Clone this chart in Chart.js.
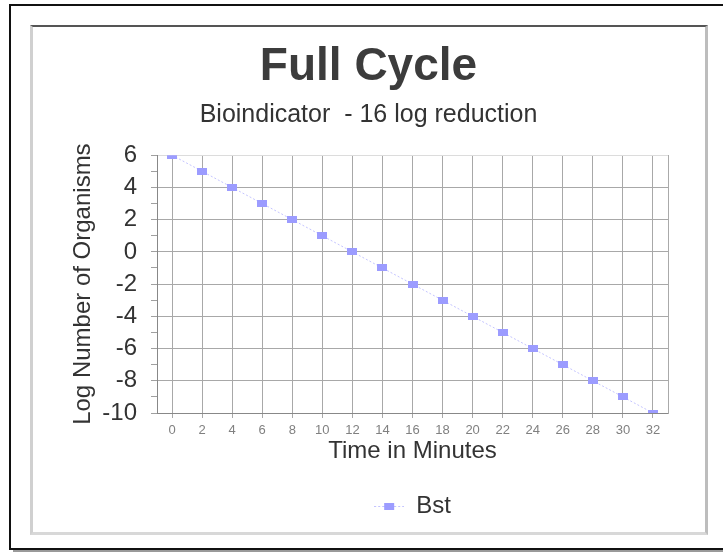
<!DOCTYPE html>
<html><head><meta charset="utf-8">
<script src="https://cdn.jsdelivr.net/npm/chart.js@4"></script>
<style>
html,body{margin:0;padding:0;background:#fff;width:723px;height:552px;overflow:hidden;position:relative}
.ln{position:absolute;background:#111}
#panel{position:absolute;left:30px;top:25px;width:672px;height:505px;background:#fff;border-top:2px solid #555;border-left:3px solid #d0d0d0;border-right:3px solid #bdbdbd;border-bottom:3px solid #d8d8d8}
canvas{position:absolute;left:0;top:0}
</style></head><body>
<div class="ln" style="left:9px;top:4px;width:714px;height:2px"></div>
<div class="ln" style="left:9px;top:4px;width:2px;height:546px"></div>
<div class="ln" style="left:9px;top:548px;width:714px;height:2px"></div>
<div class="ln" style="left:13px;top:550px;width:710px;height:2px;background:#9a9a9a"></div>
<div id="panel"></div>
<canvas id="c" width="723" height="552"></canvas>
<script>
const chartTitle = 'Full Cycle';
const chartSubtitle = 'Bioindicator  - 16 log reduction';
const xAxisTitle = 'Time in Minutes';
const yAxisTitle = 'Log Number of Organisms';
const seriesName = 'Bst';
const timeLabels = ['0','2','4','6','8','10','12','14','16','18','20','22','24','26','28','30','32'];
const bstValues = [6,5,4,3,2,1,0,-1,-2,-3,-4,-5,-6,-7,-8,-9,-10];
const yMin = -10, yMax = 6;

Chart.defaults.font.family = "'Liberation Sans', Arial, sans-serif";

const markColor = '#9c9cff';
const lineColor = '#c4c4ff';

const pointImg = document.createElement('canvas');
pointImg.width = 10; pointImg.height = 7;
{ const g = pointImg.getContext('2d'); g.fillStyle = markColor; g.fillRect(0,0,10,7); }

const legendImg = document.createElement('canvas');
legendImg.width = 30; legendImg.height = 8;
{ const g = legendImg.getContext('2d');
  g.strokeStyle = lineColor; g.lineWidth = 1; g.setLineDash([2,2]);
  g.beginPath(); g.moveTo(0,4.5); g.lineTo(30,4.5); g.stroke();
  g.fillStyle = markColor; g.fillRect(10,1,10,7); }

new Chart(document.getElementById('c'), {
  type: 'line',
  data: {
    labels: timeLabels,
    datasets: [{
      label: seriesName,
      data: bstValues,
      borderColor: lineColor,
      borderWidth: 1,
      borderDash: [2,2],
      pointStyle: pointImg,
      pointRadius: 4,
      pointBackgroundColor: markColor,
      pointBorderColor: markColor,
      tension: 0,
      fill: false,
      clip: 0
    }]
  },
  options: {
    responsive: false,
    animation: false,
    devicePixelRatio: 1,
    layout: { padding: { left: 69, right: 55, top: 25, bottom: 24 } },
    plugins: {
      title: { display: true, text: chartTitle, color: '#3c3c3c',
        font: { size: 46, weight: 'bold' }, padding: { top: 15, bottom: 0 } },
      subtitle: { display: true, text: chartSubtitle, color: '#333',
        font: { size: 25 }, padding: { top: 5, bottom: 25 } },
      legend: { position: 'bottom', fullSize: false,
        labels: { usePointStyle: true, pointStyle: legendImg, pointStyleWidth: 30,
          color: '#333', font: { size: 24 }, padding: 10 } },
      tooltip: { enabled: false }
    },
    scales: {
      x: {
        type: 'category', offset: true,
        grid: { offset: false, color: '#a8a8a8', tickColor: '#a8a8a8', tickLength: 5 },
        border: { color: '#888' },
        ticks: { color: '#808080', font: { size: 13 }, padding: 5, autoSkip: false, maxRotation: 0 },
        title: { display: true, text: xAxisTitle, color: '#333', font: { size: 24 }, padding: { top: 0, bottom: 18 } },
        afterFit(s) { s.height = 71; }
      },
      y: {
        min: yMin, max: yMax,
        ticks: { stepSize: 1, autoSkip: false, color: '#333', font: { size: 24 }, padding: 14,
          callback: (v) => (v % 2 === 0 ? String(v) : '') },
        grid: {
          color: (c) => { if (!c.tick) return '#a8a8a8'; const v = c.tick.value; if (v % 2 !== 0) return 'rgba(0,0,0,0)'; if (v === yMax) return '#dcdcdc'; return '#a8a8a8'; },
          tickColor: '#a0a0a0', tickLength: 6
        },
        border: { color: '#888' },
        title: { display: true, text: yAxisTitle, color: '#333', font: { size: 24 }, padding: { top: 0, bottom: 0 } },
        afterFit(s) { s.width = 88; }
      },
      yr: {
        position: 'right', min: yMin, max: yMax,
        grid: { display: false, drawTicks: false },
        ticks: { display: false },
        border: { display: true, color: '#aaa' },
        afterFit(s) { s.width = 0; }
      }
    }
  }
});
</script>
</body></html>
